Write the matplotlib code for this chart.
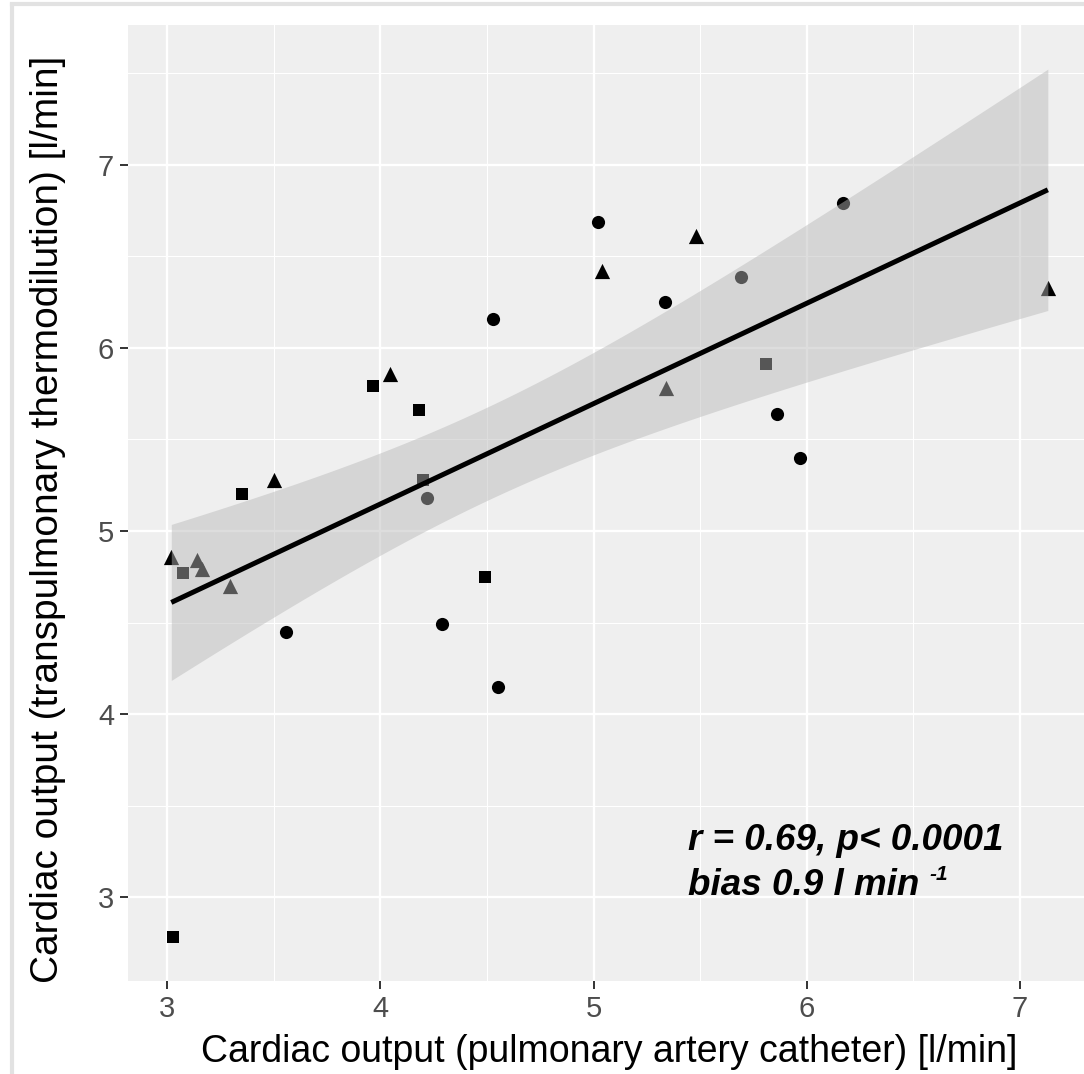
import numpy as np
import matplotlib
matplotlib.use("Agg")
from matplotlib import pyplot as plt

plt.rcParams['font.family'] = ['Liberation Sans', 'DejaVu Sans']

# values (x = PAC, y = transpulmonary thermodilution)
circle_x = [3.56, 4.22, 4.29, 4.55, 4.53, 5.02, 5.335, 5.69, 5.86, 5.97, 6.17]
circle_y = [4.45, 5.18, 4.49, 4.15, 6.16, 6.69, 6.25, 6.39, 5.64, 5.40, 6.79]
square_x = [3.075, 3.03, 3.35, 3.966, 4.18, 4.20, 4.49, 5.81]
square_y = [4.77, 2.78, 5.20, 5.79, 5.66, 5.28, 4.75, 5.91]
tri_x = [3.02, 3.14, 3.165, 3.295, 3.50, 4.045, 5.04, 5.48, 5.34, 7.13]
tri_y = [4.86, 4.84, 4.79, 4.70, 5.28, 5.86, 6.42, 6.61, 5.78, 6.33]

x_ticks = [3, 4, 5, 6, 7]
y_ticks = [3, 4, 5, 6, 7]
t_crit = 2.052  # t(0.975, df=27)

fig = plt.figure(figsize=(10.84, 10.74), dpi=100)
ax = fig.add_axes([128 / 1084, 93 / 1074, 961 / 1084, 956 / 1074])
ax.set_facecolor('#EFEFEF')
for s in ax.spines.values():
    s.set_visible(False)

ax.scatter(circle_x, circle_y, s=90, marker='o', color='black', linewidths=0, zorder=3)
ax.scatter(square_x, square_y, s=85, marker='s', color='black', linewidths=0, zorder=3)
ax.scatter(tri_x, tri_y, s=120, marker='^', color='black', linewidths=0, zorder=3)

# linear fit with 95% confidence band
xs = np.array(circle_x + square_x + tri_x)
ys = np.array(circle_y + square_y + tri_y)
n = len(xs)
b, a = np.polyfit(xs, ys, 1)
resid = ys - (a + b * xs)
sd = np.sqrt(np.sum(resid ** 2) / (n - 2))
sxx = np.sum((xs - xs.mean()) ** 2)
gx = np.linspace(xs.min(), xs.max(), 80)
gy = a + b * gx
se = sd * np.sqrt(1 / n + (gx - xs.mean()) ** 2 / sxx)
ax.fill_between(gx, gy - t_crit * se, gy + t_crit * se, color='#B8B8B8', alpha=0.47,
                linewidth=0, zorder=4)
ax.plot(gx, gy, color='black', lw=3.6, zorder=5, solid_capstyle='butt')

ax.set_xlim(2.817, 7.323)
ax.set_ylim(2.541, 7.765)
ax.set_xticks(x_ticks)
ax.set_yticks(y_ticks)
ax.set_xticks([3.5, 4.5, 5.5, 6.5], minor=True)
ax.set_yticks([3.5, 4.5, 5.5, 6.5, 7.5], minor=True)
ax.grid(which='major', color='white', lw=1.7, zorder=0)
ax.grid(which='minor', color='white', lw=0.8, zorder=0)
ax.set_axisbelow(True)
ax.tick_params(which='major', length=6, width=1.4, color='#333333',
               labelsize=21, labelcolor='#4D4D4D', pad=4)
ax.tick_params(which='minor', length=0)

ax.set_xlabel('Cardiac output (pulmonary artery catheter) [l/min]', fontsize=27, va='center')
ax.set_ylabel('Cardiac output (transpulmonary thermodilution) [l/min]', fontsize=28, va='center')
ax.xaxis.set_label_coords(0.5005, -0.0745)
ax.yaxis.set_label_coords(-0.083, 0.483)

t1 = ax.text(688 / 1084, 1 - 850 / 1074, 'r = 0.69, p< 0.0001', transform=fig.transFigure,
             fontsize=26.5, fontweight='bold', fontstyle='italic', zorder=6)
t2 = ax.text(688 / 1084, 1 - 895 / 1074, 'bias 0.9 l min', transform=fig.transFigure,
             fontsize=26.5, fontweight='bold', fontstyle='italic', zorder=6)
fig.canvas.draw()
bb = t2.get_window_extent()
ax.text((bb.x1 + 10) / 1084, 1 - 880 / 1074, '-1', transform=fig.transFigure,
        fontsize=15, fontweight='bold', fontstyle='italic', zorder=6)

# faint screenshot frame
fig.add_artist(plt.Line2D([12 / 1084, 12 / 1084], [0, 1 - 5 / 1074], color='#E2E2E2', lw=3))
fig.add_artist(plt.Line2D([12 / 1084, 1], [1 - 4 / 1074, 1 - 4 / 1074], color='#E2E2E2', lw=3))

fig.savefig('out.png', dpi=100)
